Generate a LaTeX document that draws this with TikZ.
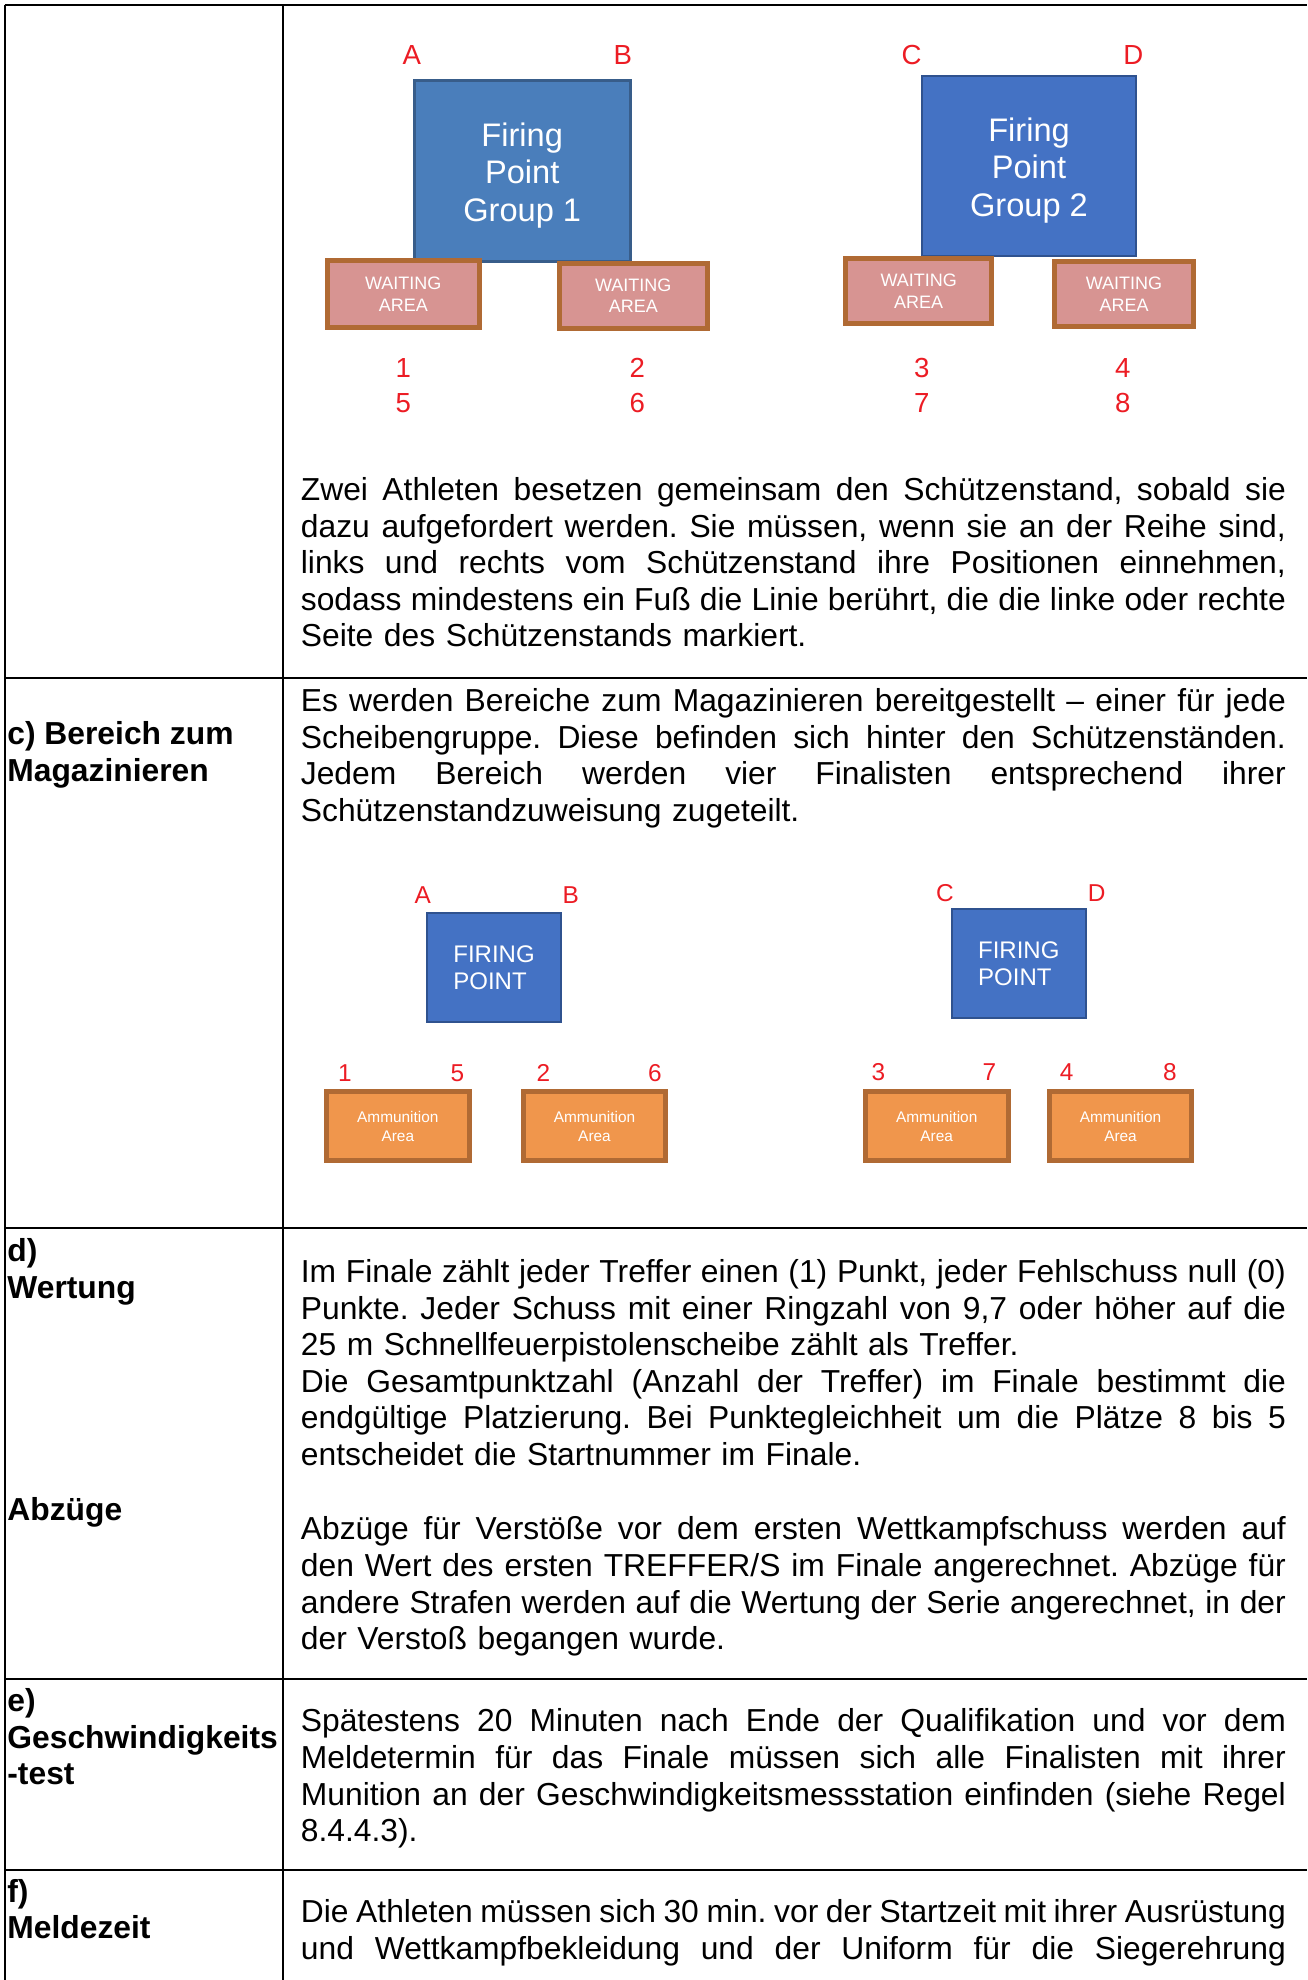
\documentclass[tikz,border=0pt]{standalone}
\usepackage{fontspec}
\setmainfont{Liberation Sans}
\usepackage{xcolor}
\definecolor{groupblue}{RGB}{74,126,187}
\definecolor{groupbluedark}{RGB}{56,93,138}
\definecolor{pointblue}{RGB}{68,114,196}
\definecolor{pointbluedark}{RGB}{47,82,143}
\definecolor{waitpink}{RGB}{215,148,146}
\definecolor{areabrown}{RGB}{176,106,52}
\definecolor{ammoorange}{RGB}{240,150,76}
\definecolor{posred}{RGB}{236,28,36}
\frenchspacing
\newlength\colw
\setlength\colw{492.5pt}
\newcommand{\jlast}[1]{\leavevmode\hbox to \colw{\spaceskip=0.278em plus 1fil minus 0.08em\xspaceskip=\spaceskip #1}}
\newcommand{\jl}[1]{\jlast{#1}\\}
\newcommand{\bodyfont}{\fontsize{15.9}{18.3}\selectfont\parindent=0pt}

\begin{document}
\begin{tikzpicture}[x=0.5pt, y=-0.5pt, every node/.style={inner sep=0pt},
  groupbox/.style={draw=groupbluedark, line width=1.5pt, fill=groupblue},
  grouptext/.style={text=white, align=center, font=\fontsize{16.3}{18.75}\selectfont},
  waitbox/.style={draw=areabrown, line width=2.5pt, fill=waitpink, text=white, align=center, font=\fontsize{9}{10.8}\selectfont},
  pointbox/.style={draw=pointbluedark, line width=1pt, fill=pointblue, text=white, align=left, font=\fontsize{12}{13.3}\selectfont},
  ammobox/.style={draw=areabrown, line width=2.5pt, fill=ammoorange, text=white, align=center, font=\fontsize{7.7}{9.2}\selectfont},
  poslabel/.style={text=posred, font=\fontsize{13.8}{16}\selectfont},
  possmall/.style={text=posred, font=\fontsize{12.2}{14}\selectfont},
  body/.style={anchor=north west, text width=\colw, align=left, font=\bodyfont},
  head/.style={anchor=north west, align=left, font=\bodyfont\bfseries},
  rule/.style={line width=1pt}]
\useasboundingbox (0,0) rectangle (1307,1980);

\draw[rule] (4.5,5) -- (1307,5);
\draw[rule] (5,5) -- (5,1980);
\draw[rule] (282.5,5) -- (282.5,1980);
\draw[rule] (5,677.5) -- (1307,677.5);
\draw[rule] (5,1227.5) -- (1307,1227.5);
\draw[rule] (5,1679) -- (1307,1679);
\draw[rule] (5,1870) -- (1307,1870);

\node (group1)[groupbox, minimum width=108pt, minimum height=90.5pt] at (522.2,171.3) {};
\node (group2)[groupbox, draw=pointbluedark, line width=1pt, fill=pointblue, minimum width=107.3pt, minimum height=90.2pt] at (1029,166.2) {};
\node (group1name)[grouptext] at ([yshift=-2pt]group1.center) {Firing\\Point\\Group 1};
\node (group2name)[grouptext] at ([yshift=-2pt]group2.center) {Firing\\Point\\Group 2};
\node (wait1)[waitbox, minimum width=75.8pt, minimum height=33.3pt] at (403.3,294.2) {WAITING\\AREA};
\node (wait2)[waitbox, minimum width=74.2pt, minimum height=32.5pt] at (633.3,295.7) {WAITING\\AREA};
\node (wait3)[waitbox, minimum width=72.8pt, minimum height=32.5pt] at (918.7,291) {WAITING\\AREA};
\node (wait4)[waitbox, minimum width=69.2pt, minimum height=32.5pt] at (1124,294.3) {WAITING\\AREA};

\node (posA)[poslabel] at (411.7,55) {A};
\node (posB)[poslabel] at (622.7,55) {B};
\node (posC)[poslabel] at (911.7,55) {C};
\node (posD)[poslabel] at (1133.3,55) {D};
\node (wait1top)[poslabel] at (403.3,368.3) {1};
\node (wait1bot)[poslabel] at (403.3,403.3) {5};
\node (wait2top)[poslabel] at (637.3,368.3) {2};
\node (wait2bot)[poslabel] at (637.3,403.3) {6};
\node (wait3top)[poslabel] at (921.7,368.3) {3};
\node (wait3bot)[poslabel] at (921.7,403.3) {7};
\node (wait4top)[poslabel] at (1122.7,368.3) {4};
\node (wait4bot)[poslabel] at (1122.7,403.3) {8};

\node (point1)[pointbox, minimum width=67pt, minimum height=54.5pt] at (494,967.8) {FIRING\\POINT};
\node (point2)[pointbox, minimum width=66.8pt, minimum height=54.5pt] at (1018.8,963.8) {FIRING\\POINT};
\node (ammo1)[ammobox, minimum width=71.3pt, minimum height=34.5pt] at (397.8,1126.3) {Ammunition\\Area};
\node (ammo2)[ammobox, minimum width=71.3pt, minimum height=34.5pt] at (594.5,1126.3) {Ammunition\\Area};
\node (ammo3)[ammobox, minimum width=71.5pt, minimum height=34.5pt] at (936.7,1126.3) {Ammunition\\Area};
\node (ammo4)[ammobox, minimum width=71.3pt, minimum height=34.5pt] at (1120.5,1126.3) {Ammunition\\Area};

\node (pointA)[possmall] at (422.7,895) {A};
\node (pointB)[possmall] at (570.7,895) {B};
\node (pointC)[possmall] at (945,893.3) {C};
\node (pointD)[possmall] at (1096.7,893.3) {D};
\node (ammo1l)[possmall] at (345,1073.3) {1};
\node (ammo1r)[possmall] at (457.3,1073.3) {5};
\node (ammo2l)[possmall] at (543.3,1073.3) {2};
\node (ammo2r)[possmall] at (655,1073.3) {6};
\node (ammo3l)[possmall] at (878.3,1071.7) {3};
\node (ammo3r)[possmall] at (989.3,1071.7) {7};
\node (ammo4l)[possmall] at (1066.7,1071.7) {4};
\node (ammo4r)[possmall] at (1170,1071.7) {8};

\node (textb)[body] at (300.5,474.4) {\strut\jl{Zwei Athleten besetzen gemeinsam den Schützenstand, sobald sie}\jl{dazu aufgefordert werden. Sie müssen, wenn sie an der Reihe sind,}\jl{links und rechts vom Schützenstand ihre Positionen einnehmen,}\jl{sodass mindestens ein Fuß die Linie berührt, die die linke oder rechte}Seite des Schützenstands markiert.};

\node (headc)[head] at (7,718.4) {\strut c) Bereich zum\\Magazinieren};
\node (textc)[body] at (300.5,685.4) {\strut\jl{Es werden Bereiche zum Magazinieren bereitgestellt -- einer für jede}\jl{Scheibengruppe. Diese befinden sich hinter den Schützenständen.}\jl{Jedem Bereich werden vier Finalisten entsprechend ihrer}Schützenstandzuweisung zugeteilt.};

\node (headd)[head] at (7,1235.9) {\strut d)\\Wertung};
\node (textd)[body] at (300.5,1256.4) {\strut\jl{Im Finale zählt jeder Treffer einen (1) Punkt, jeder Fehlschuss null (0)}\jl{Punkte. Jeder Schuss mit einer Ringzahl von 9,7 oder höher auf die}25 m Schnellfeuerpistolenscheibe zählt als Treffer.\\\jl{Die Gesamtpunktzahl (Anzahl der Treffer) im Finale bestimmt die}\jl{endgültige Platzierung. Bei Punktegleichheit um die Plätze 8 bis 5}entscheidet die Startnummer im Finale.};
\node (headabz)[head] at (7,1494.4) {\strut Abzüge};
\node (textabz)[body] at (300.5,1513.9) {\strut\jl{Abzüge für Verstöße vor dem ersten Wettkampfschuss werden auf}\jl{den Wert des ersten TREFFER/S im Finale angerechnet. Abzüge für}\jl{andere Strafen werden auf die Wertung der Serie angerechnet, in der}der Verstoß begangen wurde.};

\node (heade)[head] at (7,1685.4) {\strut e)\\Geschwindigkeits\\-test};
\node (texte)[body] at (300.5,1705.9) {\strut\jl{Spätestens 20 Minuten nach Ende der Qualifikation und vor dem}\jl{Meldetermin für das Finale müssen sich alle Finalisten mit ihrer}\jl{Munition an der Geschwindigkeitsmessstation einfinden (siehe Regel}8.4.4.3).};

\node (headf)[head] at (7,1876.1) {\strut f)\\Meldezeit};
\node (textf)[body] at (300.5,1896.4) {\strut\jl{Die Athleten müssen sich 30 min. vor der Startzeit mit ihrer Ausrüstung}\jlast{und Wettkampfbekleidung und der Uniform für die Siegerehrung}};
\end{tikzpicture}
\end{document}
